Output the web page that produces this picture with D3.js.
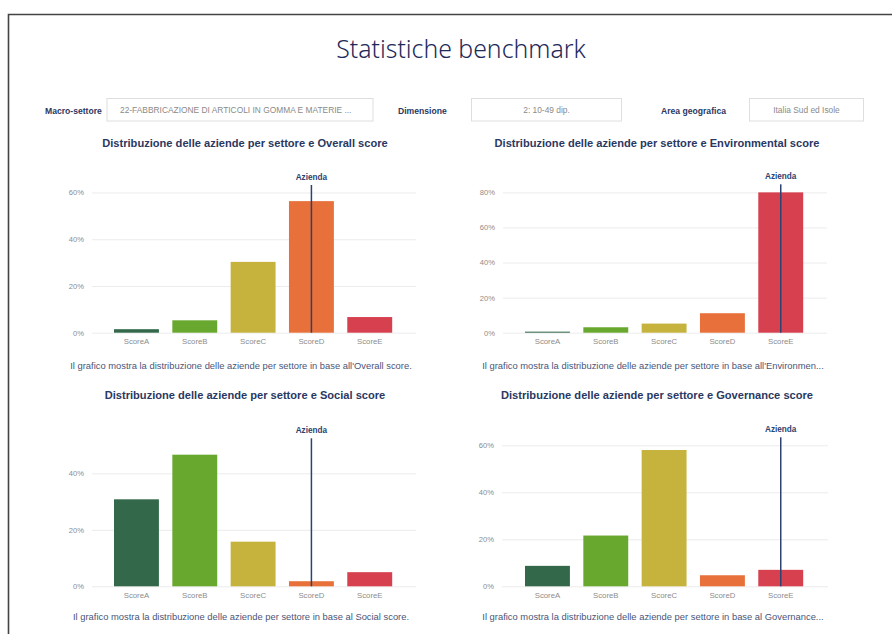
<!DOCTYPE html>
<html>
<head>
<meta charset="utf-8">
<script src="https://cdn.jsdelivr.net/npm/d3@7"></script>
<style>
  html, body { margin: 0; padding: 0; background: #fff; }
  svg { display: block; }
</style>
</head>
<body>
<svg id="chart" width="892" height="634"></svg>
<script>
// ---- data ----
const categories = ["ScoreA", "ScoreB", "ScoreC", "ScoreD", "ScoreE"];
const overallValues = [1.5, 5.3, 30.3, 56.3, 6.7];
const environmentalValues = [0.6, 3.1, 5.2, 11.1, 80.0];
const socialValues = [30.8, 46.6, 15.8, 1.8, 5.0];
const governanceValues = [8.7, 21.6, 58.0, 4.7, 7.0];
const companyScores = ["ScoreD", "ScoreE", "ScoreD", "ScoreE"];
const overallTicks = [0, 20, 40, 60];
const environmentalTicks = [0, 20, 40, 60, 80];
const socialTicks = [0, 20, 40];
const governanceTicks = [0, 20, 40, 60];
const yMaxValues = [63.2, 84.6, 52.4, 63.4];
const chartTitles = [
  "Distribuzione delle aziende per settore e Overall score",
  "Distribuzione delle aziende per settore e Environmental score",
  "Distribuzione delle aziende per settore e Social score",
  "Distribuzione delle aziende per settore e Governance score"
];
const chartCaptions = [
  "Il grafico mostra la distribuzione delle aziende per settore in base all'Overall score.",
  "Il grafico mostra la distribuzione delle aziende per settore in base all'Environmen...",
  "Il grafico mostra la distribuzione delle aziende per settore in base al Social score.",
  "Il grafico mostra la distribuzione delle aziende per settore in base al Governance..."
];
const filterLabels = ["Macro-settore", "Dimensione", "Area geografica"];
const filterValues = ["22-FABBRICAZIONE DI ARTICOLI IN GOMMA E MATERIE ...", "2: 10-49 dip.", "Italia Sud ed Isole"];
const markerLabel = "Azienda";
const pageTitle = "Statistiche benchmark";

// ---- styles ----
const barColors = ["#33694a", "#69a82e", "#c5b33e", "#e8703a", "#d7404f"];
const navy = "#2a3862";
const font = "'Liberation Sans', Arial, sans-serif";

const svg = d3.select("#chart");

// frame
svg.append("path")
  .attr("d", "M8.5,634 L8.5,14.5 L892,14.5")
  .attr("fill", "none").attr("stroke", "#444").attr("stroke-width", 1.6);

// page title
svg.append("text")
  .attr("x", 461).attr("y", 58)
  .attr("text-anchor", "middle")
  .attr("font-family", "'Noto Sans', 'Open Sans', sans-serif")
  .attr("font-size", 24.8)
  .attr("font-weight", 300)
  .attr("fill", "#1d2a5a")
  .text(pageTitle);

// filters
const filterLayout = [
  { lx: 45, bx: 107, bw: 266 },
  { lx: 398, bx: 471.5, bw: 150 },
  { lx: 661, bx: 749.5, bw: 114 }
];
filterLayout.forEach((f, i) => {
  svg.append("text")
    .attr("x", f.lx).attr("y", 113.5)
    .attr("font-family", font).attr("font-size", 8.6).attr("font-weight", "bold")
    .attr("fill", navy)
    .text(filterLabels[i]);
  svg.append("rect")
    .attr("x", f.bx).attr("y", 98.5).attr("width", f.bw).attr("height", 22.5)
    .attr("fill", "#fff").attr("stroke", "#dedede").attr("stroke-width", 1);
  svg.append("text")
    .attr("x", i === 0 ? f.bx + 13 : f.bx + f.bw / 2)
    .attr("y", 112.5)
    .attr("text-anchor", i === 0 ? "start" : "middle")
    .attr("font-family", font).attr("font-size", 8.4)
    .attr("fill", "#8a8a8a")
    .text(filterValues[i]);
});

// charts
const seriesList = [overallValues, environmentalValues, socialValues, governanceValues];
const tickList = [overallTicks, environmentalTicks, socialTicks, governanceTicks];
const panels = [
  { cx: 245, gx0: 92, gx1: 416, bx0: 107.3, bx1: 398.9, y0: 332.7, yTop: 185, titleY: 147.2, capY: 368.5 },
  { cx: 657, gx0: 503, gx1: 827, bx0: 518.3, bx1: 809.9, y0: 332.7, yTop: 184.3, titleY: 146.8, capY: 368.5 },
  { cx: 245, gx0: 92, gx1: 416, bx0: 107.3, bx1: 398.9, y0: 586.3, yTop: 438.3, titleY: 399.2, capY: 620 },
  { cx: 657, gx0: 502, gx1: 828, bx0: 518.3, bx1: 809.9, y0: 586.3, yTop: 437.3, titleY: 399.2, capY: 620 }
];

panels.forEach((p, i) => {
  const values = seriesList[i];
  const data = categories.map((c, k) => ({ cat: c, value: values[k], color: barColors[k] }));
  const g = svg.append("g");

  const x = d3.scaleBand().domain(categories).range([p.bx0, p.bx1])
    .paddingInner(0.23).paddingOuter(0.115);
  const y = d3.scaleLinear().domain([0, yMaxValues[i]]).range([p.y0, p.yTop]);

  // title
  g.append("text")
    .attr("x", p.cx).attr("y", p.titleY)
    .attr("text-anchor", "middle")
    .attr("font-family", font).attr("font-size", 11.1).attr("font-weight", "bold")
    .attr("fill", navy)
    .text(chartTitles[i]);

  // y axis with gridlines
  const yAxis = d3.axisLeft(y)
    .tickValues(tickList[i])
    .tickFormat(d => d + "%")
    .tickSize(-(p.gx1 - p.gx0))
    .tickPadding(8);
  const ya = g.append("g").attr("transform", `translate(${p.gx0},0)`).call(yAxis);
  ya.select(".domain").remove();
  ya.selectAll(".tick line").attr("stroke", "#ececec").attr("stroke-width", 1);
  ya.selectAll(".tick text")
    .attr("font-family", font).attr("font-size", 7.6).attr("fill", "#8c8c8c");

  // bars
  g.selectAll("rect.bar").data(data).join("rect")
    .attr("class", "bar")
    .attr("x", d => x(d.cat))
    .attr("width", x.bandwidth())
    .attr("y", d => y(d.value))
    .attr("height", d => y(0) - y(d.value))
    .attr("fill", d => d.color);

  // x axis labels
  const xAxis = d3.axisBottom(x).tickSize(0).tickPadding(6);
  const xa = g.append("g").attr("transform", `translate(0,${p.y0})`).call(xAxis);
  xa.select(".domain").remove();
  xa.selectAll(".tick text")
    .attr("font-family", font).attr("font-size", 7.8).attr("fill", "#8c8c8c");

  // company marker
  const mx = x(companyScores[i]) + x.bandwidth() / 2;
  g.append("line")
    .attr("x1", mx).attr("x2", mx)
    .attr("y1", y(yMaxValues[i])).attr("y2", y(0))
    .attr("stroke", "#2c4270").attr("stroke-width", 1.5);
  g.append("text")
    .attr("x", mx).attr("y", y(yMaxValues[i]) - 5)
    .attr("text-anchor", "middle")
    .attr("font-family", font).attr("font-size", 8.2).attr("font-weight", "bold")
    .attr("fill", "#2c4270")
    .text(markerLabel);

  // caption
  g.append("text")
    .attr("x", p.cx - 4).attr("y", p.capY)
    .attr("text-anchor", "middle")
    .attr("font-family", font).attr("font-size", 9.4)
    .attr("fill", "#4a5578")
    .text(chartCaptions[i]);
});
</script>
</body>
</html>
